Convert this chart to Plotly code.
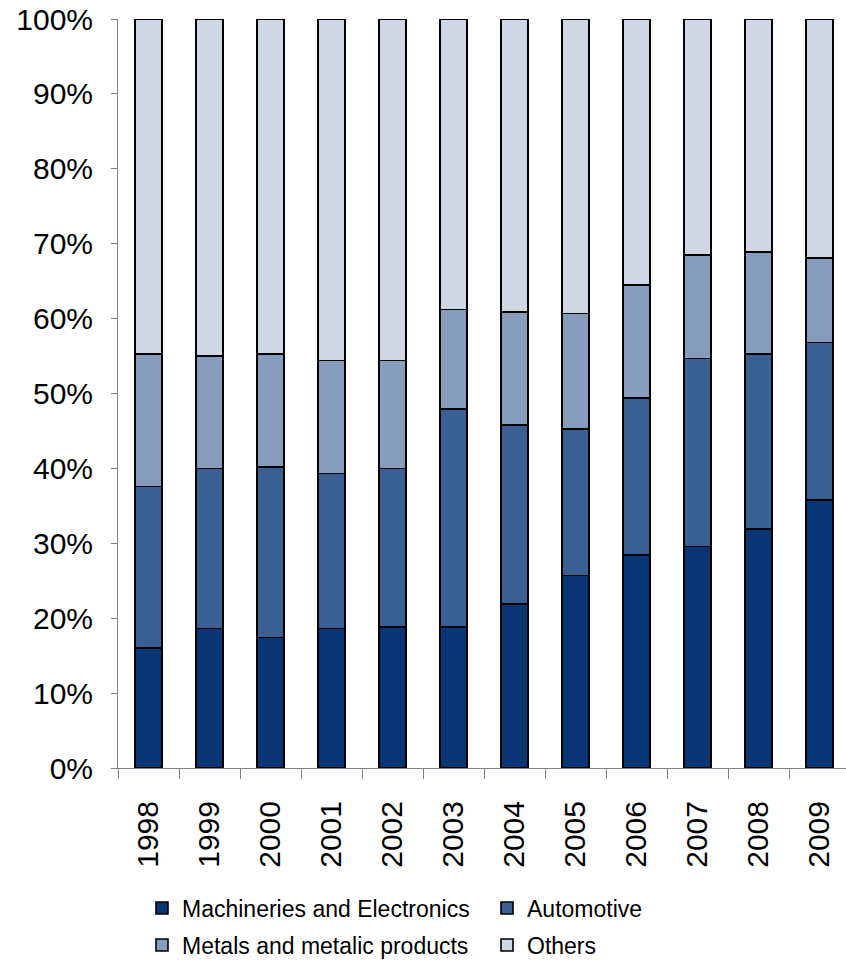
import plotly.graph_objects as go

years = ["1998", "1999", "2000", "2001", "2002", "2003", "2004", "2005", "2006", "2007", "2008", "2009"]
machineries = [16.0, 18.6, 17.4, 18.6, 18.8, 18.8, 21.9, 25.7, 28.4, 29.6, 31.9, 35.8]
automotive = [21.6, 21.4, 22.8, 20.7, 21.2, 29.1, 23.9, 19.6, 21.0, 25.1, 23.4, 21.0]
metals = [17.7, 15.0, 15.1, 15.1, 14.4, 13.3, 15.1, 15.4, 15.1, 13.8, 13.6, 11.3]
others = [44.7, 45.0, 44.7, 45.6, 45.6, 38.8, 39.1, 39.3, 35.5, 31.5, 31.1, 31.9]

series = [
    ("Machineries and Electronics", machineries, "#0A3575", "legend"),
    ("Automotive", automotive, "#3A5F93", "legend"),
    ("Metals and metalic products", metals, "#869DBD", "legend2"),
    ("Others", others, "#CED8E4", "legend2"),
]

fig = go.Figure()
for name, vals, color, lg in series:
    fig.add_trace(go.Bar(
        x=years, y=vals, name=name, legend=lg,
        marker=dict(color=color, line=dict(color="black", width=1.6)),
    ))

W, H = 846, 961
L, T, B = 118, 19, 193
plot_w = W - L
plot_h = H - T - B
cat_px = 61

def legend_cfg(ypx):
    return dict(
        orientation="h",
        x=(142 - L) / plot_w, xanchor="left",
        y=(H - B - ypx) / plot_h, yanchor="middle",
        font=dict(size=23),
        entrywidth=300,
        traceorder="normal",
        itemclick=False,
        bgcolor="rgba(0,0,0,0)",
    )

fig.update_layout(
    width=W, height=H,
    margin=dict(l=L, r=0, t=T, b=B, pad=0, autoexpand=False),
    barmode="stack",
    bargap=0.56,
    plot_bgcolor="white",
    paper_bgcolor="white",
    font=dict(family="Liberation Sans, Arial, sans-serif", color="black"),
    showlegend=True,
    legend=legend_cfg(908),
    legend2=legend_cfg(945),
    xaxis=dict(
        type="category",
        range=[-0.5, -0.5 + plot_w / cat_px],
        showline=True, linecolor="#808080", linewidth=1,
        ticks="outside", ticklen=10, tickcolor="#808080",
        tickson="boundaries",
        tickangle=-90,
        tickfont=dict(size=30),
        showgrid=False,
        ticklabelstandoff=20,
        ticklabeloverflow="allow",
        automargin=False,
    ),
    yaxis=dict(
        range=[0, 100],
        tickvals=[0, 10, 20, 30, 40, 50, 60, 70, 80, 90, 100],
        ticktext=["0%", "10%", "20%", "30%", "40%", "50%", "60%", "70%", "80%", "90%", "100%"],
        showline=True, linecolor="#808080", linewidth=1,
        ticks="outside", ticklen=6, tickcolor="#808080",
        tickfont=dict(size=30),
        showgrid=False, zeroline=False,
        ticklabelstandoff=12,
        ticklabeloverflow="allow",
        automargin=False,
    ),
)

fig.write_html(
    "out.html",
    config={"displayModeBar": False},
    post_script="document.body.style.margin='0';document.body.style.overflow='hidden';",
)
